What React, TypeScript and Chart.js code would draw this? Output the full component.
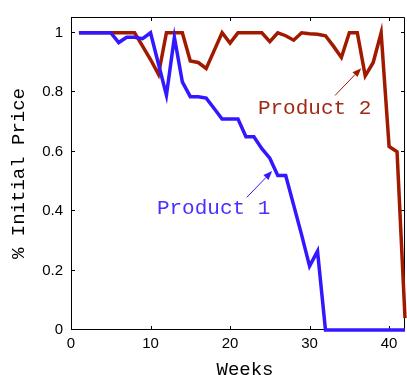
import React, { useEffect, useRef } from "react";
import { Chart, registerables } from "chart.js";

Chart.register(...registerables);

const weeks = Array.from({ length: 42 }, (_, i) => i + 1);

const product1 = [
  1, 1, 1, 1, 1, 0.967, 0.985, 0.985, 0.98, 1.0,
  0.895, 0.79, 0.985, 0.835, 0.785, 0.785, 0.78, 0.745, 0.71, 0.71,
  0.71, 0.65, 0.65, 0.61, 0.578, 0.52, 0.52, 0.42, 0.32, 0.215,
  0.265, 0, 0, 0, 0, 0, 0, 0, 0, 0,
  0, 0,
];

const product2 = [
  1, 1, 1, 1, 1, 1, 1, 1, 0.955, 0.91,
  0.86, 1, 1, 1, 0.905, 0.9, 0.88, 0.94, 1, 0.965,
  1, 1, 1, 1, 0.97, 1, 0.99, 0.975, 1, 0.997,
  0.995, 0.99, 0.955, 0.917, 1, 1, 0.855, 0.9, 1, 0.617,
  0.6, 0.04,
];

const xTicks = [0, 10, 20, 30, 40];
const yTicks = [0, 0.2, 0.4, 0.6, 0.8, 1];

const seriesNames = ["Product 1", "Product 2"];
const seriesColors = ["#3318ff", "#a01a00"];
const textColors = ["#4a30ff", "#a02a14"];

// annotation anchors in data units: [textX, textY, arrowFromX, arrowFromY, arrowToX, arrowToY]
const annot1 = [10.8, 0.389, 22.1, 0.446, 25.3, 0.535];
const annot2 = [23.5, 0.726, 33.2, 0.789, 36.5, 0.881];

const MONO = '"Liberation Mono", "Courier New", monospace';
const SANS = '"Liberation Sans", Arial, sans-serif';

const framePlugin = {
  id: "framePlugin",
  beforeDatasetsDraw(chart: any) {
    const { ctx, chartArea: a, scales } = chart;
    ctx.save();
    ctx.strokeStyle = "#000";
    ctx.lineWidth = 1;
    ctx.beginPath();
    ctx.rect(a.left + 0.5, a.top + 0.5, a.right - a.left - 1, a.bottom - a.top - 1);
    ctx.stroke();
    const tl = 4;
    ctx.beginPath();
    for (const v of xTicks) {
      const px = Math.round(scales.x.getPixelForValue(v)) + 0.5;
      ctx.moveTo(px, a.bottom);
      ctx.lineTo(px, a.bottom - tl);
      ctx.moveTo(px, a.top);
      ctx.lineTo(px, a.top + tl);
    }
    for (const v of yTicks) {
      const py = Math.round(scales.y.getPixelForValue(v)) - 0.5;
      ctx.moveTo(a.left, py);
      ctx.lineTo(a.left + tl, py);
      ctx.moveTo(a.right, py);
      ctx.lineTo(a.right - tl, py);
    }
    ctx.stroke();
    // x title
    ctx.fillStyle = "#000";
    ctx.font = `19px ${MONO}`;
    ctx.textAlign = "center";
    ctx.textBaseline = "alphabetic";
    ctx.fillText("Weeks", (a.left + a.right) / 2 + 7, 375);
    ctx.restore();
  },
  afterDatasetsDraw(chart: any) {
    const { ctx, scales } = chart;
    const draw = (an: number[], label: string, color: string, tcolor: string) => {
      const X = (v: number) => scales.x.getPixelForValue(v);
      const Y = (v: number) => scales.y.getPixelForValue(v);
      ctx.save();
      ctx.font = `21px ${MONO}`;
      ctx.fillStyle = tcolor;
      ctx.textAlign = "left";
      ctx.textBaseline = "alphabetic";
      ctx.fillText(label, X(an[0]), Y(an[1]));
      const x0 = X(an[2]), y0 = Y(an[3]), x1 = X(an[4]), y1 = Y(an[5]);
      const ang = Math.atan2(y1 - y0, x1 - x0);
      const hl = 9, hw = 3.5;
      const bx = x1 - hl * Math.cos(ang), by = y1 - hl * Math.sin(ang);
      ctx.strokeStyle = color;
      ctx.fillStyle = color;
      ctx.lineWidth = 1;
      ctx.beginPath();
      ctx.moveTo(x0, y0);
      ctx.lineTo(bx, by);
      ctx.stroke();
      ctx.beginPath();
      ctx.moveTo(x1, y1);
      ctx.lineTo(bx + hw * Math.sin(ang), by - hw * Math.cos(ang));
      ctx.lineTo(bx - hw * Math.sin(ang), by + hw * Math.cos(ang));
      ctx.closePath();
      ctx.fill();
      ctx.restore();
    };
    draw(annot1, seriesNames[0], seriesColors[0], textColors[0]);
    draw(annot2, seriesNames[1], seriesColors[1], textColors[1]);
  },
};

export default function App() {
  const ref = useRef<HTMLCanvasElement | null>(null);
  useEffect(() => {
    document.body.style.margin = "0";
    const canvas = ref.current;
    if (!canvas) return;
    const chart = new Chart(canvas, {
      type: "line",
      data: {
        datasets: [
          {
            label: seriesNames[0],
            data: weeks.map((w, i) => ({ x: w, y: product1[i] })),
            borderColor: seriesColors[0],
            borderWidth: 3.5,
            pointRadius: 0,
            tension: 0,
            clip: 4,
          },
          {
            label: seriesNames[1],
            data: weeks.map((w, i) => ({ x: w, y: product2[i] })),
            borderColor: seriesColors[1],
            borderWidth: 3.5,
            pointRadius: 0,
            tension: 0,
            clip: 4,
          },
        ],
      },
      options: {
        responsive: false,
        animation: false,
        devicePixelRatio: 1,
        layout: { padding: { top: 12, right: 2, left: 0, bottom: 0 } },
        plugins: { legend: { display: false }, tooltip: { enabled: false } },
        scales: {
          x: {
            type: "linear",
            min: 0,
            max: 42,
            grid: { display: false, drawTicks: false },
            border: { display: false },
            afterBuildTicks: (s: any) => {
              s.ticks = xTicks.map((v) => ({ value: v }));
            },
            afterFit: (s: any) => {
              s.height = 45;
            },
            ticks: {
              color: "#000",
              font: { family: SANS, size: 15 },
              padding: 5,
              maxRotation: 0,
              callback: (v: any) => String(v),
            },
          },
          y: {
            type: "linear",
            min: 0,
            max: 1.053,
            grid: { display: false, drawTicks: false },
            border: { display: false },
            afterBuildTicks: (s: any) => {
              s.ticks = yTicks.map((v) => ({ value: v }));
            },
            afterFit: (s: any) => {
              s.width = 71;
            },
            ticks: {
              color: "#000",
              font: { family: SANS, size: 15 },
              padding: 8,
              callback: (v: any) => String(Math.round(v * 10) / 10),
            },
            title: {
              display: true,
              text: "% Initial Price",
              color: "#000",
              font: { family: MONO, size: 19, lineHeight: 1 },
              padding: { top: 9, bottom: 0 },
            },
          },
        },
      },
      plugins: [framePlugin],
    });
    return () => chart.destroy();
  }, []);
  return (
    <div style={{ width: 407, height: 375 }}>
      <canvas ref={ref} width={407} height={375} style={{ display: "block" }} />
    </div>
  );
}
